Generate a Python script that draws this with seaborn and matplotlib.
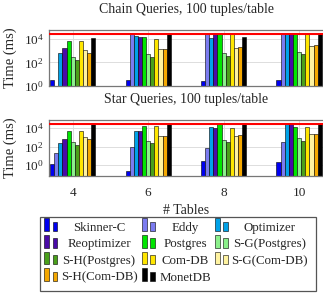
import numpy as np
import pandas as pd
import seaborn as sns
import matplotlib
matplotlib.use("Agg")
import matplotlib.pyplot as plt
from matplotlib.patches import Rectangle

# ---------------- data ----------------
tables = ["4", "6", "8", "10"]
systems = ["Skinner-C", "Eddy", "Optimizer", "Reoptimizer", "Postgres",
           "S-G(Postgres)", "S-H(Postgres)", "Com-DB", "S-G(Com-DB)",
           "S-H(Com-DB)", "MonetDB"]
colors = ["#0000f0", "#7b7bf0", "#00a2e8", "#4a0aa8", "#00e600",
          "#8bf08b", "#4aa01a", "#ffe600", "#fff3a0", "#f5a800", "#000000"]
TIMEOUT = 27000
nan = float("nan")

# chain queries, one list per table count (order = systems)
chain_t4 = [3.0, nan, 630, 1600, 7600, 320, 180, 7100, 1150, 630, 12000]
chain_t6 = [3.0, TIMEOUT, 19000, 15000, 15000, 550, 270, 10000, 1400, 1400, TIMEOUT]
chain_t8 = [2.7, TIMEOUT, 12000, TIMEOUT, TIMEOUT, 630, 370, TIMEOUT, 1700, 2100, 15000]
chain_t10 = [3.3, TIMEOUT, TIMEOUT, TIMEOUT, TIMEOUT, 870, 590, TIMEOUT, 2500, 3250, TIMEOUT]

# star queries
star_t4 = [1.2, 22, 270, 630, 5500, 300, 140, 5500, 1050, 740, TIMEOUT]
star_t6 = [0.24, 85, 5500, 5500, 18000, 450, 230, 19500, 1350, 1600, TIMEOUT]
star_t8 = [2.7, 77, 13000, 10000, TIMEOUT, 570, 300, 10000, 1600, 1850, TIMEOUT]
star_t10 = [2.3, 300, TIMEOUT, TIMEOUT, 15000, 950, 410, 15000, 2200, 2200, TIMEOUT]


def long_frame(cols):
    rows = []
    for t, vals in zip(tables, cols):
        for s, v in zip(systems, vals):
            rows.append({"tables": t, "system": s, "time": v})
    return pd.DataFrame(rows)


chain_df = long_frame([chain_t4, chain_t6, chain_t8, chain_t10])
star_df = long_frame([star_t4, star_t6, star_t8, star_t10])

# ---------------- style ----------------
sns.set_theme(style="white")
plt.rcParams["font.family"] = ["Liberation Serif", "DejaVu Serif"]
plt.rcParams["mathtext.fontset"] = "stix"
FS = 9.5
W, H = 323, 296
fig = plt.figure(figsize=(W / 100, H / 100), dpi=100)


def px_axes(left, top, right, bottom):
    return fig.add_axes([left / W, 1 - bottom / H, (right - left) / W, (bottom - top) / H])


ax1 = px_axes(49, 30, 324, 86)
ax2 = px_axes(49, 120, 324, 175.5)

palette = dict(zip(systems, colors))
for ax, df, ylim, title in [
    (ax1, chain_df, (10 ** -0.02, 10 ** 4.79), "Chain Queries, 100 tuples/table"),
    (ax2, star_df, (10 ** -1.15, 10 ** 4.9), "Star Queries, 100 tuples/table"),
]:
    ax.set_yscale("log")
    sns.barplot(data=df, x="tables", y="time", hue="system", hue_order=systems,
                order=tables, palette=palette, width=0.6, gap=0, saturation=1,
                errorbar=None, edgecolor="black", linewidth=0.4, legend=False, ax=ax)
    ax.axhline(TIMEOUT, color="red", lw=1.5, zorder=5)
    ax.set_ylim(*ylim)
    ax.set_xlim(-0.314, 3.33)
    ax.set_yticks([1, 100, 10000])
    ax.yaxis.set_minor_locator(matplotlib.ticker.NullLocator())
    ax.grid(True, which="major", color="#dddddd", lw=0.7)
    ax.set_axisbelow(True)
    for sp in ax.spines.values():
        sp.set_color("#777777")
        sp.set_linewidth(0.9)
    ax.spines["right"].set_visible(False)
    ax.tick_params(length=0, labelsize=FS, pad=4)
    ax.tick_params(axis="x", pad=8)
    ax.set_ylabel("Time (ms)", fontsize=FS + 1)
    ax.yaxis.set_label_coords(-0.115, 0.5)
    ax.set_title(title, fontsize=FS + 0.5, pad=12)
    ax.set_xlabel("")

ax1.set_xticklabels([])
ax2.set_xlabel("# Tables", fontsize=FS + 0.5)
ax2.xaxis.set_label_coords(0.5, -0.52)

# ---------------- legend (pgfplots style, drawn in pixel space) ----------------
lax = fig.add_axes([0, 0, 1, 1])
lax.set_xlim(0, W)
lax.set_ylim(H, 0)
lax.axis("off")
lax.add_patch(Rectangle((40, 217), 276, 74, fill=False, ec="#555555", lw=0.9))
col_handle_x = [44.3, 142.0, 215.0]
col_text_x = [99.0, 185.0, 269.5]
row_y = [227.7, 244.3, 261.0, 277.7]
for i, (name, c) in enumerate(zip(systems, colors)):
    r, k = divmod(i, 3)
    hx, cy = col_handle_x[k], row_y[r]
    lax.add_patch(Rectangle((hx, cy + 3.3), 4.5, -12.7, fc=c, ec="black", lw=0.4))
    lax.add_patch(Rectangle((hx + 8.4, cy + 3.3), 4.5, -9.3, fc=c, ec="black", lw=0.4))
    lax.text(col_text_x[k], cy, name, ha="center", va="center", fontsize=9.3)

fig.savefig("out.png", dpi=100)
